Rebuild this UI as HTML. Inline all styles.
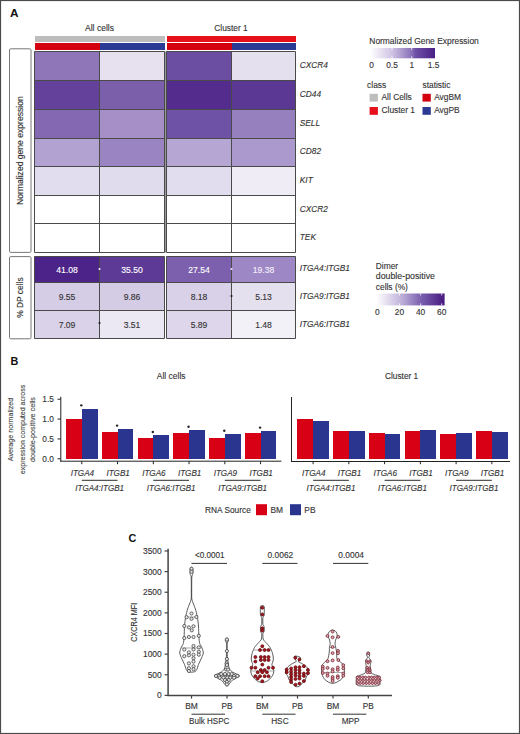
<!DOCTYPE html>
<html><head><meta charset="utf-8"><style>
html,body{margin:0;padding:0;background:#fff;}
svg{display:block;}
text{font-family:"Liberation Sans", sans-serif;}
</style></head><body>
<svg width="520" height="734" viewBox="0 0 520 734">
<rect x="0" y="0" width="520" height="734" fill="#fff"/>
<text x="10" y="17.3" font-size="11.8" fill="#111" font-weight="bold">A</text>
<text x="99.5" y="30.8" font-size="8.6" fill="#333" text-anchor="middle" textLength="29" lengthAdjust="spacingAndGlyphs" stroke="#333" stroke-width="0.12">All cells</text>
<text x="231" y="30.8" font-size="8.6" fill="#333" text-anchor="middle" textLength="33.5" lengthAdjust="spacingAndGlyphs" stroke="#333" stroke-width="0.12">Cluster 1</text>
<rect x="34.50" y="35.80" width="130.00" height="6.00" fill="#bdbdbd" shape-rendering="crispEdges"/>
<rect x="166.50" y="35.80" width="129.00" height="6.00" fill="#e5101a" shape-rendering="crispEdges"/>
<rect x="34.50" y="43.20" width="65.00" height="6.50" fill="#d4000f" shape-rendering="crispEdges"/>
<rect x="99.50" y="43.20" width="65.00" height="6.50" fill="#2b3a94" shape-rendering="crispEdges"/>
<rect x="166.50" y="43.20" width="65.00" height="6.50" fill="#d4000f" shape-rendering="crispEdges"/>
<rect x="231.50" y="43.20" width="64.00" height="6.50" fill="#2b3a94" shape-rendering="crispEdges"/>
<rect x="34.50" y="51.50" width="65.00" height="29.00" fill="#8e76b9"/>
<rect x="99.50" y="51.50" width="65.00" height="29.00" fill="#e6e0ef"/>
<rect x="166.50" y="51.50" width="65.00" height="29.00" fill="#6b4ea2"/>
<rect x="231.50" y="51.50" width="64.00" height="29.00" fill="#e5e0ee"/>
<rect x="34.50" y="80.50" width="65.00" height="29.00" fill="#64419b"/>
<rect x="99.50" y="80.50" width="65.00" height="29.00" fill="#7b5faa"/>
<rect x="166.50" y="80.50" width="65.00" height="29.00" fill="#532c8d"/>
<rect x="231.50" y="80.50" width="64.00" height="29.00" fill="#5c3895"/>
<rect x="34.50" y="109.50" width="65.00" height="29.00" fill="#8468b2"/>
<rect x="99.50" y="109.50" width="65.00" height="29.00" fill="#a58fc6"/>
<rect x="166.50" y="109.50" width="65.00" height="29.00" fill="#6e52a5"/>
<rect x="231.50" y="109.50" width="64.00" height="29.00" fill="#9680bd"/>
<rect x="34.50" y="138.50" width="65.00" height="28.00" fill="#b2a2d2"/>
<rect x="99.50" y="138.50" width="65.00" height="28.00" fill="#9a85c2"/>
<rect x="166.50" y="138.50" width="65.00" height="28.00" fill="#b6a6d3"/>
<rect x="231.50" y="138.50" width="64.00" height="28.00" fill="#ab98cd"/>
<rect x="34.50" y="166.50" width="65.00" height="29.00" fill="#e2ddee"/>
<rect x="99.50" y="166.50" width="65.00" height="29.00" fill="#e0dbed"/>
<rect x="166.50" y="166.50" width="65.00" height="29.00" fill="#e2ddee"/>
<rect x="231.50" y="166.50" width="64.00" height="29.00" fill="#efecf6"/>
<rect x="34.50" y="195.50" width="65.00" height="28.00" fill="#ffffff"/>
<rect x="99.50" y="195.50" width="65.00" height="28.00" fill="#ffffff"/>
<rect x="166.50" y="195.50" width="65.00" height="28.00" fill="#ffffff"/>
<rect x="231.50" y="195.50" width="64.00" height="28.00" fill="#ffffff"/>
<rect x="34.50" y="223.50" width="65.00" height="29.00" fill="#ffffff"/>
<rect x="99.50" y="223.50" width="65.00" height="29.00" fill="#ffffff"/>
<rect x="166.50" y="223.50" width="65.00" height="29.00" fill="#ffffff"/>
<rect x="231.50" y="223.50" width="64.00" height="29.00" fill="#ffffff"/>
<rect x="34.50" y="256.50" width="65.00" height="26.00" fill="#4c2389"/>
<rect x="99.50" y="256.50" width="65.00" height="26.00" fill="#5e3a97"/>
<rect x="166.50" y="256.50" width="65.00" height="26.00" fill="#7c60ad"/>
<rect x="231.50" y="256.50" width="64.00" height="26.00" fill="#9d87c4"/>
<rect x="34.50" y="282.50" width="65.00" height="28.00" fill="#d5cce5"/>
<rect x="99.50" y="282.50" width="65.00" height="28.00" fill="#d4cbe4"/>
<rect x="166.50" y="282.50" width="65.00" height="28.00" fill="#d9d1e8"/>
<rect x="231.50" y="282.50" width="64.00" height="28.00" fill="#e5e0ee"/>
<rect x="34.50" y="310.50" width="65.00" height="28.00" fill="#d9d2e8"/>
<rect x="99.50" y="310.50" width="65.00" height="28.00" fill="#ebe7f3"/>
<rect x="166.50" y="310.50" width="65.00" height="28.00" fill="#ded7eb"/>
<rect x="231.50" y="310.50" width="64.00" height="28.00" fill="#f3f1f8"/>
<line x1="34.5" y1="51.5" x2="164.5" y2="51.5" stroke="#4a4a4a" stroke-width="1"/>
<line x1="34.5" y1="80.5" x2="164.5" y2="80.5" stroke="#4a4a4a" stroke-width="1"/>
<line x1="34.5" y1="109.5" x2="164.5" y2="109.5" stroke="#4a4a4a" stroke-width="1"/>
<line x1="34.5" y1="138.5" x2="164.5" y2="138.5" stroke="#4a4a4a" stroke-width="1"/>
<line x1="34.5" y1="166.5" x2="164.5" y2="166.5" stroke="#4a4a4a" stroke-width="1"/>
<line x1="34.5" y1="195.5" x2="164.5" y2="195.5" stroke="#4a4a4a" stroke-width="1"/>
<line x1="34.5" y1="223.5" x2="164.5" y2="223.5" stroke="#4a4a4a" stroke-width="1"/>
<line x1="34.5" y1="252.5" x2="164.5" y2="252.5" stroke="#4a4a4a" stroke-width="1"/>
<line x1="34.5" y1="51.5" x2="34.5" y2="252.5" stroke="#4a4a4a" stroke-width="1"/>
<line x1="99.5" y1="51.5" x2="99.5" y2="252.5" stroke="#4a4a4a" stroke-width="1"/>
<line x1="164.5" y1="51.5" x2="164.5" y2="252.5" stroke="#4a4a4a" stroke-width="1"/>
<line x1="34.5" y1="256.5" x2="164.5" y2="256.5" stroke="#4a4a4a" stroke-width="1"/>
<line x1="34.5" y1="282.5" x2="164.5" y2="282.5" stroke="#4a4a4a" stroke-width="1"/>
<line x1="34.5" y1="310.5" x2="164.5" y2="310.5" stroke="#4a4a4a" stroke-width="1"/>
<line x1="34.5" y1="338.5" x2="164.5" y2="338.5" stroke="#4a4a4a" stroke-width="1"/>
<line x1="34.5" y1="256.5" x2="34.5" y2="338.5" stroke="#4a4a4a" stroke-width="1"/>
<line x1="99.5" y1="256.5" x2="99.5" y2="338.5" stroke="#4a4a4a" stroke-width="1"/>
<line x1="164.5" y1="256.5" x2="164.5" y2="338.5" stroke="#4a4a4a" stroke-width="1"/>
<line x1="166.5" y1="51.5" x2="295.5" y2="51.5" stroke="#4a4a4a" stroke-width="1"/>
<line x1="166.5" y1="80.5" x2="295.5" y2="80.5" stroke="#4a4a4a" stroke-width="1"/>
<line x1="166.5" y1="109.5" x2="295.5" y2="109.5" stroke="#4a4a4a" stroke-width="1"/>
<line x1="166.5" y1="138.5" x2="295.5" y2="138.5" stroke="#4a4a4a" stroke-width="1"/>
<line x1="166.5" y1="166.5" x2="295.5" y2="166.5" stroke="#4a4a4a" stroke-width="1"/>
<line x1="166.5" y1="195.5" x2="295.5" y2="195.5" stroke="#4a4a4a" stroke-width="1"/>
<line x1="166.5" y1="223.5" x2="295.5" y2="223.5" stroke="#4a4a4a" stroke-width="1"/>
<line x1="166.5" y1="252.5" x2="295.5" y2="252.5" stroke="#4a4a4a" stroke-width="1"/>
<line x1="166.5" y1="51.5" x2="166.5" y2="252.5" stroke="#4a4a4a" stroke-width="1"/>
<line x1="231.5" y1="51.5" x2="231.5" y2="252.5" stroke="#4a4a4a" stroke-width="1"/>
<line x1="295.5" y1="51.5" x2="295.5" y2="252.5" stroke="#4a4a4a" stroke-width="1"/>
<line x1="166.5" y1="256.5" x2="295.5" y2="256.5" stroke="#4a4a4a" stroke-width="1"/>
<line x1="166.5" y1="282.5" x2="295.5" y2="282.5" stroke="#4a4a4a" stroke-width="1"/>
<line x1="166.5" y1="310.5" x2="295.5" y2="310.5" stroke="#4a4a4a" stroke-width="1"/>
<line x1="166.5" y1="338.5" x2="295.5" y2="338.5" stroke="#4a4a4a" stroke-width="1"/>
<line x1="166.5" y1="256.5" x2="166.5" y2="338.5" stroke="#4a4a4a" stroke-width="1"/>
<line x1="231.5" y1="256.5" x2="231.5" y2="338.5" stroke="#4a4a4a" stroke-width="1"/>
<line x1="295.5" y1="256.5" x2="295.5" y2="338.5" stroke="#4a4a4a" stroke-width="1"/>
<rect x="165.00" y="51.50" width="1.00" height="201.00" fill="#9a9a9a"/>
<text x="67.0" y="272.5" font-size="8.6" fill="#ffffff" text-anchor="middle" stroke="#ffffff" stroke-width="0.12">41.08</text>
<text x="132.0" y="272.5" font-size="8.6" fill="#ffffff" text-anchor="middle" stroke="#ffffff" stroke-width="0.12">35.50</text>
<text x="199.0" y="272.5" font-size="8.6" fill="#ffffff" text-anchor="middle" stroke="#ffffff" stroke-width="0.12">27.54</text>
<text x="263.5" y="272.5" font-size="8.6" fill="#f4f0fa" text-anchor="middle" stroke="#f4f0fa" stroke-width="0.12">19.38</text>
<text x="67.0" y="299.5" font-size="8.6" fill="#333" text-anchor="middle" stroke="#333" stroke-width="0.12">9.55</text>
<text x="132.0" y="299.5" font-size="8.6" fill="#333" text-anchor="middle" stroke="#333" stroke-width="0.12">9.86</text>
<text x="199.0" y="299.5" font-size="8.6" fill="#333" text-anchor="middle" stroke="#333" stroke-width="0.12">8.18</text>
<text x="263.5" y="299.5" font-size="8.6" fill="#333" text-anchor="middle" stroke="#333" stroke-width="0.12">5.13</text>
<text x="67.0" y="327.5" font-size="8.6" fill="#333" text-anchor="middle" stroke="#333" stroke-width="0.12">7.09</text>
<text x="132.0" y="327.5" font-size="8.6" fill="#333" text-anchor="middle" stroke="#333" stroke-width="0.12">3.51</text>
<text x="199.0" y="327.5" font-size="8.6" fill="#333" text-anchor="middle" stroke="#333" stroke-width="0.12">5.89</text>
<text x="263.5" y="327.5" font-size="8.6" fill="#333" text-anchor="middle" stroke="#333" stroke-width="0.12">1.48</text>
<circle cx="99.5" cy="269.0" r="1.1" fill="#f0e8ff"/>
<circle cx="231.5" cy="269.0" r="1.1" fill="#f0e8ff"/>
<circle cx="231.5" cy="296.0" r="1.1" fill="#222"/>
<circle cx="99.5" cy="323.0" r="1.1" fill="#222"/>
<rect x="9.5" y="48.8" width="21.5" height="203.6" rx="1.2" fill="none" stroke="#777" stroke-width="1"/>
<rect x="9.5" y="256.6" width="21.5" height="82.2" rx="1.2" fill="none" stroke="#777" stroke-width="1"/>
<text transform="translate(23.1,150.6) rotate(-90)" font-size="8.7" fill="#333" stroke="#333" stroke-width="0.12" text-anchor="middle" textLength="108.7" lengthAdjust="spacingAndGlyphs">Normalized gene expression</text>
<text transform="translate(23.2,297.6) rotate(-90)" font-size="8.7" fill="#333" stroke="#333" stroke-width="0.12" text-anchor="middle" textLength="40.4" lengthAdjust="spacingAndGlyphs">% DP cells</text>
<text x="299.8" y="68.2" font-size="8.3" fill="#333" font-style="italic" stroke="#333" stroke-width="0.12">CXCR4</text>
<text x="299.8" y="96.88" font-size="8.3" fill="#333" font-style="italic" stroke="#333" stroke-width="0.12">CD44</text>
<text x="299.8" y="125.56" font-size="8.3" fill="#333" font-style="italic" stroke="#333" stroke-width="0.12">SELL</text>
<text x="299.8" y="154.24" font-size="8.3" fill="#333" font-style="italic" stroke="#333" stroke-width="0.12">CD82</text>
<text x="299.8" y="182.92" font-size="8.3" fill="#333" font-style="italic" stroke="#333" stroke-width="0.12">KIT</text>
<text x="299.8" y="211.6" font-size="8.3" fill="#333" font-style="italic" stroke="#333" stroke-width="0.12">CXCR2</text>
<text x="299.8" y="240.28" font-size="8.3" fill="#333" font-style="italic" stroke="#333" stroke-width="0.12">TEK</text>
<text x="299.7" y="271.4" font-size="8.3" fill="#333" font-style="italic" textLength="50.3" lengthAdjust="spacingAndGlyphs" stroke="#333" stroke-width="0.12">ITGA4:ITGB1</text>
<text x="299.7" y="299.1" font-size="8.3" fill="#333" font-style="italic" textLength="50.3" lengthAdjust="spacingAndGlyphs" stroke="#333" stroke-width="0.12">ITGA9:ITGB1</text>
<text x="299.7" y="327.0" font-size="8.3" fill="#333" font-style="italic" textLength="50.3" lengthAdjust="spacingAndGlyphs" stroke="#333" stroke-width="0.12">ITGA6:ITGB1</text>
<text x="369.3" y="44.3" font-size="8.4" fill="#333" textLength="109.5" lengthAdjust="spacingAndGlyphs" stroke="#333" stroke-width="0.12">Normalized Gene Expression</text>
<defs><linearGradient id="g1" x1="0" x2="1" y1="0" y2="0"><stop offset="0" stop-color="#ffffff"/><stop offset="0.34" stop-color="#cfc4e3"/><stop offset="0.64" stop-color="#8a70b8"/><stop offset="0.7" stop-color="#6e50a6"/><stop offset="1" stop-color="#4a1f86"/></linearGradient><linearGradient id="g2" x1="0" x2="1" y1="0" y2="0"><stop offset="0" stop-color="#ffffff"/><stop offset="0.33" stop-color="#c7bbdf"/><stop offset="0.66" stop-color="#7a5fae"/><stop offset="1" stop-color="#46197f"/></linearGradient></defs>
<rect x="370.00" y="48.00" width="65.00" height="10.30" fill="url(#g1)"/>
<line x1="392" y1="48.0" x2="392" y2="50.0" stroke="#fff" stroke-width="0.8"/>
<line x1="392" y1="56.3" x2="392" y2="58.3" stroke="#fff" stroke-width="0.8"/>
<line x1="411.75" y1="48.0" x2="411.75" y2="50.0" stroke="#fff" stroke-width="0.8"/>
<line x1="411.75" y1="56.3" x2="411.75" y2="58.3" stroke="#fff" stroke-width="0.8"/>
<text x="371.5" y="68.0" font-size="8.4" fill="#333" text-anchor="middle" stroke="#333" stroke-width="0.12">0</text>
<text x="392" y="68.0" font-size="8.4" fill="#333" text-anchor="middle" stroke="#333" stroke-width="0.12">0.5</text>
<text x="411.75" y="68.0" font-size="8.4" fill="#333" text-anchor="middle" stroke="#333" stroke-width="0.12">1</text>
<text x="433.5" y="68.0" font-size="8.4" fill="#333" text-anchor="middle" stroke="#333" stroke-width="0.12">1.5</text>
<text x="367.1" y="87.7" font-size="8.4" fill="#333" stroke="#333" stroke-width="0.12">class</text>
<text x="422.5" y="87.7" font-size="8.4" fill="#333" stroke="#333" stroke-width="0.12">statistic</text>
<rect x="369.60" y="93.80" width="8.30" height="7.80" fill="#bdbdbd"/>
<text x="381.5" y="100.2" font-size="8.4" fill="#333" stroke="#333" stroke-width="0.12">All Cells</text>
<rect x="369.60" y="107.00" width="8.30" height="7.80" fill="#e5101a"/>
<text x="381.5" y="113.2" font-size="8.4" fill="#333" stroke="#333" stroke-width="0.12">Cluster 1</text>
<rect x="422.50" y="93.80" width="8.30" height="7.80" fill="#d4000f"/>
<text x="434.2" y="100.2" font-size="8.4" fill="#333" stroke="#333" stroke-width="0.12">AvgBM</text>
<rect x="422.50" y="107.00" width="8.30" height="7.80" fill="#2b3a94"/>
<text x="434.2" y="113.2" font-size="8.4" fill="#333" stroke="#333" stroke-width="0.12">AvgPB</text>
<text x="375.8" y="268.8" font-size="8.4" fill="#333" stroke="#333" stroke-width="0.12">Dimer</text>
<text x="375.8" y="279.2" font-size="8.4" fill="#333" textLength="59.2" lengthAdjust="spacingAndGlyphs" stroke="#333" stroke-width="0.12">double-positive</text>
<text x="375.8" y="289.6" font-size="8.4" fill="#333" stroke="#333" stroke-width="0.12">cells (%)</text>
<rect x="376.30" y="293.50" width="68.30" height="11.90" fill="url(#g2)"/>
<line x1="399.4" y1="293.5" x2="399.4" y2="295.5" stroke="#fff" stroke-width="0.8"/>
<line x1="399.4" y1="303.4" x2="399.4" y2="305.4" stroke="#fff" stroke-width="0.8"/>
<line x1="420.6" y1="293.5" x2="420.6" y2="295.5" stroke="#fff" stroke-width="0.8"/>
<line x1="420.6" y1="303.4" x2="420.6" y2="305.4" stroke="#fff" stroke-width="0.8"/>
<line x1="441.7" y1="293.5" x2="441.7" y2="295.5" stroke="#fff" stroke-width="0.8"/>
<line x1="441.7" y1="303.4" x2="441.7" y2="305.4" stroke="#fff" stroke-width="0.8"/>
<text x="377.3" y="314.6" font-size="8.4" fill="#333" text-anchor="middle" stroke="#333" stroke-width="0.12">0</text>
<text x="399.4" y="314.6" font-size="8.4" fill="#333" text-anchor="middle" stroke="#333" stroke-width="0.12">20</text>
<text x="420.6" y="314.6" font-size="8.4" fill="#333" text-anchor="middle" stroke="#333" stroke-width="0.12">40</text>
<text x="441.7" y="314.6" font-size="8.4" fill="#333" text-anchor="middle" stroke="#333" stroke-width="0.12">60</text>
<text x="10.5" y="365.4" font-size="10.8" fill="#111" font-weight="bold">B</text>
<text x="171.2" y="379.2" font-size="8.4" fill="#333" text-anchor="middle" textLength="28.7" lengthAdjust="spacingAndGlyphs" stroke="#333" stroke-width="0.12">All cells</text>
<text x="401.6" y="379.3" font-size="8.4" fill="#333" text-anchor="middle" textLength="33.2" lengthAdjust="spacingAndGlyphs" stroke="#333" stroke-width="0.12">Cluster 1</text>
<line x1="60.8" y1="396.8" x2="60.8" y2="461.7" stroke="#222" stroke-width="1.0"/>
<line x1="60.3" y1="461.2" x2="281.4" y2="461.2" stroke="#222" stroke-width="1.0"/>
<line x1="57.5" y1="458.8" x2="60.8" y2="458.8" stroke="#222" stroke-width="1.0"/>
<text x="53.9" y="461.7" font-size="8.2" fill="#333" text-anchor="end" textLength="11.6" lengthAdjust="spacingAndGlyphs" stroke="#333" stroke-width="0.12">0.0</text>
<line x1="57.5" y1="438.94" x2="60.8" y2="438.94" stroke="#222" stroke-width="1.0"/>
<text x="53.9" y="441.83" font-size="8.2" fill="#333" text-anchor="end" textLength="11.6" lengthAdjust="spacingAndGlyphs" stroke="#333" stroke-width="0.12">0.5</text>
<line x1="57.5" y1="419.07" x2="60.8" y2="419.07" stroke="#222" stroke-width="1.0"/>
<text x="53.9" y="421.97" font-size="8.2" fill="#333" text-anchor="end" textLength="11.6" lengthAdjust="spacingAndGlyphs" stroke="#333" stroke-width="0.12">1.0</text>
<line x1="57.5" y1="399.21" x2="60.8" y2="399.21" stroke="#222" stroke-width="1.0"/>
<text x="53.9" y="402.11" font-size="8.2" fill="#333" text-anchor="end" textLength="11.6" lengthAdjust="spacingAndGlyphs" stroke="#333" stroke-width="0.12">1.5</text>
<text transform="translate(13.4,429.5) rotate(-90)" font-size="7.7" fill="#444" stroke="#444" stroke-width="0.12" text-anchor="middle" textLength="63.5" lengthAdjust="spacingAndGlyphs">Average normalized</text>
<text transform="translate(25.0,429.5) rotate(-90)" font-size="7.7" fill="#444" stroke="#444" stroke-width="0.12" text-anchor="middle" textLength="89.3" lengthAdjust="spacingAndGlyphs">expression computed across</text>
<text transform="translate(35.2,429.5) rotate(-90)" font-size="7.7" fill="#444" stroke="#444" stroke-width="0.12" text-anchor="middle" textLength="64.9" lengthAdjust="spacingAndGlyphs">double-positive cells</text>
<rect x="66.00" y="419.07" width="15.80" height="39.73" fill="#d70014" shape-rendering="crispEdges"/>
<rect x="81.80" y="408.74" width="15.80" height="50.06" fill="#2a3590" shape-rendering="crispEdges"/>
<line x1="81.8" y1="461.2" x2="81.8" y2="464.2" stroke="#222" stroke-width="1.0"/>
<circle cx="81.3" cy="405.34" r="1.2" fill="#222"/>
<rect x="101.75" y="431.78" width="15.80" height="27.02" fill="#d70014" shape-rendering="crispEdges"/>
<rect x="117.55" y="429.00" width="15.80" height="29.80" fill="#2a3590" shape-rendering="crispEdges"/>
<line x1="117.55" y1="461.2" x2="117.55" y2="464.2" stroke="#222" stroke-width="1.0"/>
<circle cx="117.05" cy="425.6" r="1.2" fill="#222"/>
<rect x="137.50" y="438.14" width="15.80" height="20.66" fill="#d70014" shape-rendering="crispEdges"/>
<rect x="153.30" y="435.36" width="15.80" height="23.44" fill="#2a3590" shape-rendering="crispEdges"/>
<line x1="153.3" y1="461.2" x2="153.3" y2="464.2" stroke="#222" stroke-width="1.0"/>
<circle cx="152.8" cy="431.96" r="1.2" fill="#222"/>
<rect x="173.25" y="433.37" width="15.80" height="25.43" fill="#d70014" shape-rendering="crispEdges"/>
<rect x="189.05" y="430.19" width="15.80" height="28.61" fill="#2a3590" shape-rendering="crispEdges"/>
<line x1="189.05" y1="461.2" x2="189.05" y2="464.2" stroke="#222" stroke-width="1.0"/>
<circle cx="188.55" cy="426.79" r="1.2" fill="#222"/>
<rect x="209.00" y="438.14" width="15.80" height="20.66" fill="#d70014" shape-rendering="crispEdges"/>
<rect x="224.80" y="434.17" width="15.80" height="24.63" fill="#2a3590" shape-rendering="crispEdges"/>
<line x1="224.8" y1="461.2" x2="224.8" y2="464.2" stroke="#222" stroke-width="1.0"/>
<circle cx="224.3" cy="430.77" r="1.2" fill="#222"/>
<rect x="244.75" y="433.37" width="15.80" height="25.43" fill="#d70014" shape-rendering="crispEdges"/>
<rect x="260.55" y="430.99" width="15.80" height="27.81" fill="#2a3590" shape-rendering="crispEdges"/>
<line x1="260.55" y1="461.2" x2="260.55" y2="464.2" stroke="#222" stroke-width="1.0"/>
<circle cx="260.05" cy="427.59" r="1.2" fill="#222"/>
<rect x="297.30" y="419.47" width="15.80" height="39.33" fill="#d70014" shape-rendering="crispEdges"/>
<rect x="313.10" y="421.06" width="15.80" height="37.74" fill="#2a3590" shape-rendering="crispEdges"/>
<line x1="313.1" y1="461.2" x2="313.1" y2="464.2" stroke="#222" stroke-width="1.0"/>
<rect x="333.05" y="430.59" width="15.80" height="28.21" fill="#d70014" shape-rendering="crispEdges"/>
<rect x="348.85" y="431.39" width="15.80" height="27.41" fill="#2a3590" shape-rendering="crispEdges"/>
<line x1="348.85" y1="461.2" x2="348.85" y2="464.2" stroke="#222" stroke-width="1.0"/>
<rect x="368.80" y="432.98" width="15.80" height="25.82" fill="#d70014" shape-rendering="crispEdges"/>
<rect x="384.60" y="433.57" width="15.80" height="25.23" fill="#2a3590" shape-rendering="crispEdges"/>
<line x1="384.6" y1="461.2" x2="384.6" y2="464.2" stroke="#222" stroke-width="1.0"/>
<rect x="404.55" y="430.99" width="15.80" height="27.81" fill="#d70014" shape-rendering="crispEdges"/>
<rect x="420.35" y="430.00" width="15.80" height="28.80" fill="#2a3590" shape-rendering="crispEdges"/>
<line x1="420.35" y1="461.2" x2="420.35" y2="464.2" stroke="#222" stroke-width="1.0"/>
<rect x="440.30" y="433.57" width="15.80" height="25.23" fill="#d70014" shape-rendering="crispEdges"/>
<rect x="456.10" y="433.17" width="15.80" height="25.63" fill="#2a3590" shape-rendering="crispEdges"/>
<line x1="456.1" y1="461.2" x2="456.1" y2="464.2" stroke="#222" stroke-width="1.0"/>
<rect x="476.05" y="431.39" width="15.80" height="27.41" fill="#d70014" shape-rendering="crispEdges"/>
<rect x="491.85" y="431.58" width="15.80" height="27.22" fill="#2a3590" shape-rendering="crispEdges"/>
<line x1="491.85" y1="461.2" x2="491.85" y2="464.2" stroke="#222" stroke-width="1.0"/>
<line x1="291.5" y1="397.0" x2="291.5" y2="461.7" stroke="#222" stroke-width="1.0"/>
<line x1="291.0" y1="461.5" x2="510.0" y2="461.5" stroke="#222" stroke-width="1.0"/>
<text x="82.4" y="475.8" font-size="8.3" fill="#333" text-anchor="middle" font-style="italic" textLength="23.5" lengthAdjust="spacingAndGlyphs" stroke="#333" stroke-width="0.12">ITGA4</text>
<text x="118.15" y="475.8" font-size="8.3" fill="#333" text-anchor="middle" font-style="italic" textLength="23.5" lengthAdjust="spacingAndGlyphs" stroke="#333" stroke-width="0.12">ITGB1</text>
<text x="153.9" y="475.8" font-size="8.3" fill="#333" text-anchor="middle" font-style="italic" textLength="23.5" lengthAdjust="spacingAndGlyphs" stroke="#333" stroke-width="0.12">ITGA6</text>
<text x="189.65" y="475.8" font-size="8.3" fill="#333" text-anchor="middle" font-style="italic" textLength="23.5" lengthAdjust="spacingAndGlyphs" stroke="#333" stroke-width="0.12">ITGB1</text>
<text x="225.4" y="475.8" font-size="8.3" fill="#333" text-anchor="middle" font-style="italic" textLength="23.5" lengthAdjust="spacingAndGlyphs" stroke="#333" stroke-width="0.12">ITGA9</text>
<text x="261.15" y="475.8" font-size="8.3" fill="#333" text-anchor="middle" font-style="italic" textLength="23.5" lengthAdjust="spacingAndGlyphs" stroke="#333" stroke-width="0.12">ITGB1</text>
<line x1="81.8" y1="480.4" x2="117.55" y2="480.4" stroke="#555" stroke-width="1.2"/>
<text x="99.67" y="490.8" font-size="8.3" fill="#333" text-anchor="middle" font-style="italic" textLength="48.9" lengthAdjust="spacingAndGlyphs" stroke="#333" stroke-width="0.12">ITGA4:ITGB1</text>
<line x1="153.3" y1="480.4" x2="189.05" y2="480.4" stroke="#555" stroke-width="1.2"/>
<text x="171.18" y="490.8" font-size="8.3" fill="#333" text-anchor="middle" font-style="italic" textLength="48.9" lengthAdjust="spacingAndGlyphs" stroke="#333" stroke-width="0.12">ITGA6:ITGB1</text>
<line x1="224.8" y1="480.4" x2="260.55" y2="480.4" stroke="#555" stroke-width="1.2"/>
<text x="242.68" y="490.8" font-size="8.3" fill="#333" text-anchor="middle" font-style="italic" textLength="48.9" lengthAdjust="spacingAndGlyphs" stroke="#333" stroke-width="0.12">ITGA9:ITGB1</text>
<text x="313.7" y="475.8" font-size="8.3" fill="#333" text-anchor="middle" font-style="italic" textLength="23.5" lengthAdjust="spacingAndGlyphs" stroke="#333" stroke-width="0.12">ITGA4</text>
<text x="349.45" y="475.8" font-size="8.3" fill="#333" text-anchor="middle" font-style="italic" textLength="23.5" lengthAdjust="spacingAndGlyphs" stroke="#333" stroke-width="0.12">ITGB1</text>
<text x="385.2" y="475.8" font-size="8.3" fill="#333" text-anchor="middle" font-style="italic" textLength="23.5" lengthAdjust="spacingAndGlyphs" stroke="#333" stroke-width="0.12">ITGA6</text>
<text x="420.95" y="475.8" font-size="8.3" fill="#333" text-anchor="middle" font-style="italic" textLength="23.5" lengthAdjust="spacingAndGlyphs" stroke="#333" stroke-width="0.12">ITGB1</text>
<text x="456.7" y="475.8" font-size="8.3" fill="#333" text-anchor="middle" font-style="italic" textLength="23.5" lengthAdjust="spacingAndGlyphs" stroke="#333" stroke-width="0.12">ITGA9</text>
<text x="492.45" y="475.8" font-size="8.3" fill="#333" text-anchor="middle" font-style="italic" textLength="23.5" lengthAdjust="spacingAndGlyphs" stroke="#333" stroke-width="0.12">ITGB1</text>
<line x1="313.1" y1="480.4" x2="348.85" y2="480.4" stroke="#555" stroke-width="1.2"/>
<text x="330.98" y="490.8" font-size="8.3" fill="#333" text-anchor="middle" font-style="italic" textLength="48.9" lengthAdjust="spacingAndGlyphs" stroke="#333" stroke-width="0.12">ITGA4:ITGB1</text>
<line x1="384.6" y1="480.4" x2="420.35" y2="480.4" stroke="#555" stroke-width="1.2"/>
<text x="402.48" y="490.8" font-size="8.3" fill="#333" text-anchor="middle" font-style="italic" textLength="48.9" lengthAdjust="spacingAndGlyphs" stroke="#333" stroke-width="0.12">ITGA6:ITGB1</text>
<line x1="456.1" y1="480.4" x2="491.85" y2="480.4" stroke="#555" stroke-width="1.2"/>
<text x="473.98" y="490.8" font-size="8.3" fill="#333" text-anchor="middle" font-style="italic" textLength="48.9" lengthAdjust="spacingAndGlyphs" stroke="#333" stroke-width="0.12">ITGA9:ITGB1</text>
<text x="205" y="513.0" font-size="8.4" fill="#333" textLength="45.8" lengthAdjust="spacingAndGlyphs" stroke="#333" stroke-width="0.12">RNA Source</text>
<rect x="256.00" y="504.20" width="11.00" height="11.00" fill="#d70014"/>
<text x="270.4" y="513.0" font-size="8.4" fill="#333" stroke="#333" stroke-width="0.12">BM</text>
<rect x="290.00" y="504.20" width="11.00" height="11.00" fill="#2a3590"/>
<text x="304.3" y="513.0" font-size="8.4" fill="#333" stroke="#333" stroke-width="0.12">PB</text>
<text x="128.5" y="541.9" font-size="10.8" fill="#111" font-weight="bold">C</text>
<line x1="168.1" y1="548.8" x2="168.1" y2="696.1" stroke="#444" stroke-width="1.5"/>
<line x1="167.4" y1="695.4" x2="392" y2="695.4" stroke="#444" stroke-width="1.5"/>
<line x1="164.6" y1="695.4" x2="168.1" y2="695.4" stroke="#444" stroke-width="1.2"/>
<text x="161.7" y="698.3" font-size="8.4" fill="#333" text-anchor="end" textLength="4.68" lengthAdjust="spacingAndGlyphs" stroke="#333" stroke-width="0.12">0</text>
<line x1="164.6" y1="674.77" x2="168.1" y2="674.77" stroke="#444" stroke-width="1.2"/>
<text x="161.7" y="677.67" font-size="8.4" fill="#333" text-anchor="end" textLength="14.04" lengthAdjust="spacingAndGlyphs" stroke="#333" stroke-width="0.12">500</text>
<line x1="164.6" y1="654.14" x2="168.1" y2="654.14" stroke="#444" stroke-width="1.2"/>
<text x="161.7" y="657.04" font-size="8.4" fill="#333" text-anchor="end" textLength="18.72" lengthAdjust="spacingAndGlyphs" stroke="#333" stroke-width="0.12">1000</text>
<line x1="164.6" y1="633.51" x2="168.1" y2="633.51" stroke="#444" stroke-width="1.2"/>
<text x="161.7" y="636.41" font-size="8.4" fill="#333" text-anchor="end" textLength="18.72" lengthAdjust="spacingAndGlyphs" stroke="#333" stroke-width="0.12">1500</text>
<line x1="164.6" y1="612.88" x2="168.1" y2="612.88" stroke="#444" stroke-width="1.2"/>
<text x="161.7" y="615.78" font-size="8.4" fill="#333" text-anchor="end" textLength="18.72" lengthAdjust="spacingAndGlyphs" stroke="#333" stroke-width="0.12">2000</text>
<line x1="164.6" y1="592.25" x2="168.1" y2="592.25" stroke="#444" stroke-width="1.2"/>
<text x="161.7" y="595.15" font-size="8.4" fill="#333" text-anchor="end" textLength="18.72" lengthAdjust="spacingAndGlyphs" stroke="#333" stroke-width="0.12">2500</text>
<line x1="164.6" y1="571.62" x2="168.1" y2="571.62" stroke="#444" stroke-width="1.2"/>
<text x="161.7" y="574.52" font-size="8.4" fill="#333" text-anchor="end" textLength="18.72" lengthAdjust="spacingAndGlyphs" stroke="#333" stroke-width="0.12">3000</text>
<line x1="164.6" y1="550.99" x2="168.1" y2="550.99" stroke="#444" stroke-width="1.2"/>
<text x="161.7" y="553.89" font-size="8.4" fill="#333" text-anchor="end" textLength="18.72" lengthAdjust="spacingAndGlyphs" stroke="#333" stroke-width="0.12">3500</text>
<text transform="translate(137.2,622.2) rotate(-90)" font-size="8.4" fill="#333" stroke="#333" stroke-width="0.12" text-anchor="middle" textLength="39" lengthAdjust="spacingAndGlyphs">CXCR4 MFI</text>
<line x1="191.5" y1="695.4" x2="191.5" y2="698.6" stroke="#444" stroke-width="1.2"/>
<line x1="227.0" y1="695.4" x2="227.0" y2="698.6" stroke="#444" stroke-width="1.2"/>
<line x1="262.3" y1="695.4" x2="262.3" y2="698.6" stroke="#444" stroke-width="1.2"/>
<line x1="297.5" y1="695.4" x2="297.5" y2="698.6" stroke="#444" stroke-width="1.2"/>
<line x1="333.0" y1="695.4" x2="333.0" y2="698.6" stroke="#444" stroke-width="1.2"/>
<line x1="368.3" y1="695.4" x2="368.3" y2="698.6" stroke="#444" stroke-width="1.2"/>
<text x="191.5" y="709.0" font-size="8.2" fill="#333" text-anchor="middle" textLength="12.7" lengthAdjust="spacingAndGlyphs" stroke="#333" stroke-width="0.12">BM</text>
<text x="227.0" y="709.0" font-size="8.2" fill="#333" text-anchor="middle" textLength="11.0" lengthAdjust="spacingAndGlyphs" stroke="#333" stroke-width="0.12">PB</text>
<text x="262.3" y="709.0" font-size="8.2" fill="#333" text-anchor="middle" textLength="12.7" lengthAdjust="spacingAndGlyphs" stroke="#333" stroke-width="0.12">BM</text>
<text x="297.5" y="709.0" font-size="8.2" fill="#333" text-anchor="middle" textLength="11.0" lengthAdjust="spacingAndGlyphs" stroke="#333" stroke-width="0.12">PB</text>
<text x="333.0" y="709.0" font-size="8.2" fill="#333" text-anchor="middle" textLength="12.7" lengthAdjust="spacingAndGlyphs" stroke="#333" stroke-width="0.12">BM</text>
<text x="368.3" y="709.0" font-size="8.2" fill="#333" text-anchor="middle" textLength="11.0" lengthAdjust="spacingAndGlyphs" stroke="#333" stroke-width="0.12">PB</text>
<line x1="191.5" y1="714.2" x2="225.0" y2="714.2" stroke="#333" stroke-width="1.0"/>
<text x="209.25" y="724.2" font-size="8.2" fill="#333" text-anchor="middle" textLength="40.4" lengthAdjust="spacingAndGlyphs" stroke="#333" stroke-width="0.12">Bulk HSPC</text>
<line x1="262.3" y1="714.2" x2="295.5" y2="714.2" stroke="#333" stroke-width="1.0"/>
<text x="279.9" y="724.2" font-size="8.2" fill="#333" text-anchor="middle" textLength="17.5" lengthAdjust="spacingAndGlyphs" stroke="#333" stroke-width="0.12">HSC</text>
<line x1="333.0" y1="714.2" x2="366.3" y2="714.2" stroke="#333" stroke-width="1.0"/>
<text x="350.65" y="724.2" font-size="8.2" fill="#333" text-anchor="middle" textLength="17.9" lengthAdjust="spacingAndGlyphs" stroke="#333" stroke-width="0.12">MPP</text>
<line x1="191.5" y1="563.4" x2="227.0" y2="563.4" stroke="#333" stroke-width="1.0"/>
<text x="209.75" y="558.1" font-size="8.2" fill="#333" text-anchor="middle" textLength="29.6" lengthAdjust="spacingAndGlyphs" stroke="#333" stroke-width="0.12">&lt;0.0001</text>
<line x1="262.3" y1="563.4" x2="297.5" y2="563.4" stroke="#333" stroke-width="1.0"/>
<text x="280.4" y="558.1" font-size="8.2" fill="#333" text-anchor="middle" textLength="25.6" lengthAdjust="spacingAndGlyphs" stroke="#333" stroke-width="0.12">0.0062</text>
<line x1="333.0" y1="563.4" x2="368.3" y2="563.4" stroke="#333" stroke-width="1.0"/>
<text x="351.15" y="558.1" font-size="8.2" fill="#333" text-anchor="middle" textLength="25.6" lengthAdjust="spacingAndGlyphs" stroke="#333" stroke-width="0.12">0.0004</text>
<rect x="0.5" y="0.5" width="519" height="733" fill="none" stroke="#4a4a4a" stroke-width="1.2"/>
<path d="M191.50,567.20 C191.74,567.20 192.55,567.82 192.70,568.20 C192.85,568.58 193.00,570.37 193.00,571.00 C193.00,571.63 192.82,573.90 192.70,574.50 C192.58,575.10 191.90,575.45 191.80,577.00 C191.70,578.55 191.70,587.80 191.70,590.00 C191.70,592.20 191.62,597.60 191.80,599.00 C191.98,600.40 193.14,603.00 193.50,604.00 C193.86,605.00 195.02,607.75 195.40,609.00 C195.78,610.25 196.99,614.80 197.30,616.50 C197.61,618.20 198.34,623.95 198.50,626.00 C198.66,628.05 198.78,635.25 198.90,637.00 C199.02,638.75 199.37,642.37 199.70,643.50 C200.03,644.63 201.84,647.35 202.20,648.30 C202.56,649.25 203.35,652.07 203.30,653.00 C203.25,653.93 202.18,656.45 201.70,657.60 C201.22,658.75 198.99,663.31 198.50,664.50 C198.01,665.69 197.14,668.79 196.80,669.50 C196.46,670.21 195.63,671.33 195.10,671.60 C194.57,671.87 192.22,672.20 191.50,672.20 C190.78,672.20 188.43,671.87 187.90,671.60 C187.37,671.33 186.54,670.21 186.20,669.50 C185.86,668.79 184.99,665.69 184.50,664.50 C184.01,663.31 181.78,658.75 181.30,657.60 C180.82,656.45 179.75,653.93 179.70,653.00 C179.65,652.07 180.44,649.25 180.80,648.30 C181.16,647.35 182.97,644.63 183.30,643.50 C183.63,642.37 183.98,638.75 184.10,637.00 C184.22,635.25 184.34,628.05 184.50,626.00 C184.66,623.95 185.39,618.20 185.70,616.50 C186.01,614.80 187.22,610.25 187.60,609.00 C187.98,607.75 189.14,605.00 189.50,604.00 C189.86,603.00 191.02,600.40 191.20,599.00 C191.38,597.60 191.30,592.20 191.30,590.00 C191.30,587.80 191.30,578.55 191.20,577.00 C191.10,575.45 190.42,575.10 190.30,574.50 C190.18,573.90 190.00,571.63 190.00,571.00 C190.00,570.37 190.15,568.58 190.30,568.20 C190.45,567.82 191.26,567.20 191.50,567.20Z" fill="none" stroke="#333" stroke-width="0.8"/>
<line x1="185.94" y1="617.0" x2="197.06" y2="617.0" stroke="#555" stroke-width="0.5"/>
<line x1="181.26" y1="648.0" x2="201.74" y2="648.0" stroke="#555" stroke-width="0.5"/>
<circle cx="191.5" cy="568.8" r="1.6" fill="#e6e6e6" stroke="#3d3d3d" stroke-width="0.75"/>
<circle cx="191.5" cy="571.8" r="1.6" fill="#e6e6e6" stroke="#3d3d3d" stroke-width="0.75"/>
<circle cx="191.5" cy="613.5" r="1.6" fill="#e6e6e6" stroke="#3d3d3d" stroke-width="0.75"/>
<circle cx="186.6" cy="617.2" r="1.6" fill="#e6e6e6" stroke="#3d3d3d" stroke-width="0.75"/>
<circle cx="191.5" cy="618.8" r="1.6" fill="#e6e6e6" stroke="#3d3d3d" stroke-width="0.75"/>
<circle cx="196.4" cy="617" r="1.6" fill="#e6e6e6" stroke="#3d3d3d" stroke-width="0.75"/>
<circle cx="184.3" cy="626" r="1.6" fill="#e6e6e6" stroke="#3d3d3d" stroke-width="0.75"/>
<circle cx="188.9" cy="627.4" r="1.6" fill="#e6e6e6" stroke="#3d3d3d" stroke-width="0.75"/>
<circle cx="193.5" cy="626.3" r="1.6" fill="#e6e6e6" stroke="#3d3d3d" stroke-width="0.75"/>
<circle cx="191.8" cy="630.3" r="1.6" fill="#e6e6e6" stroke="#3d3d3d" stroke-width="0.75"/>
<circle cx="184.3" cy="638.1" r="1.6" fill="#e6e6e6" stroke="#3d3d3d" stroke-width="0.75"/>
<circle cx="188.9" cy="637" r="1.6" fill="#e6e6e6" stroke="#3d3d3d" stroke-width="0.75"/>
<circle cx="193.5" cy="637" r="1.6" fill="#e6e6e6" stroke="#3d3d3d" stroke-width="0.75"/>
<circle cx="198.8" cy="635.8" r="1.6" fill="#e6e6e6" stroke="#3d3d3d" stroke-width="0.75"/>
<circle cx="193.5" cy="646" r="1.6" fill="#e6e6e6" stroke="#3d3d3d" stroke-width="0.75"/>
<circle cx="198.8" cy="647.4" r="1.6" fill="#e6e6e6" stroke="#3d3d3d" stroke-width="0.75"/>
<circle cx="184.3" cy="649.5" r="1.6" fill="#e6e6e6" stroke="#3d3d3d" stroke-width="0.75"/>
<circle cx="193.5" cy="649.5" r="1.6" fill="#e6e6e6" stroke="#3d3d3d" stroke-width="0.75"/>
<circle cx="188.9" cy="652.4" r="1.6" fill="#e6e6e6" stroke="#3d3d3d" stroke-width="0.75"/>
<circle cx="198.8" cy="651.8" r="1.6" fill="#e6e6e6" stroke="#3d3d3d" stroke-width="0.75"/>
<circle cx="188.9" cy="655.3" r="1.6" fill="#e6e6e6" stroke="#3d3d3d" stroke-width="0.75"/>
<circle cx="193.5" cy="654.7" r="1.6" fill="#e6e6e6" stroke="#3d3d3d" stroke-width="0.75"/>
<circle cx="198.8" cy="654.7" r="1.6" fill="#e6e6e6" stroke="#3d3d3d" stroke-width="0.75"/>
<circle cx="184.3" cy="656.2" r="1.6" fill="#e6e6e6" stroke="#3d3d3d" stroke-width="0.75"/>
<circle cx="193.5" cy="658.2" r="1.6" fill="#e6e6e6" stroke="#3d3d3d" stroke-width="0.75"/>
<circle cx="193.5" cy="661.6" r="1.6" fill="#e6e6e6" stroke="#3d3d3d" stroke-width="0.75"/>
<circle cx="188.9" cy="663.4" r="1.6" fill="#e6e6e6" stroke="#3d3d3d" stroke-width="0.75"/>
<circle cx="193.5" cy="666.3" r="1.6" fill="#e6e6e6" stroke="#3d3d3d" stroke-width="0.75"/>
<circle cx="188.9" cy="668.2" r="1.6" fill="#e6e6e6" stroke="#3d3d3d" stroke-width="0.75"/>
<circle cx="193.5" cy="669.2" r="1.6" fill="#e6e6e6" stroke="#3d3d3d" stroke-width="0.75"/>
<circle cx="188.9" cy="671.0" r="1.6" fill="#e6e6e6" stroke="#3d3d3d" stroke-width="0.75"/>
<path d="M226.90,638.00 C227.16,638.00 228.05,638.50 228.20,638.80 C228.35,639.10 228.50,640.58 228.40,641.00 C228.30,641.42 227.32,642.10 227.20,643.00 C227.08,643.90 227.19,649.10 227.20,650.00 C227.21,650.90 227.28,651.20 227.30,652.00 C227.32,652.80 227.32,657.00 227.40,658.00 C227.48,659.00 227.97,661.20 228.10,662.00 C228.23,662.80 228.56,665.30 228.70,666.00 C228.84,666.70 229.13,668.40 229.50,669.00 C229.87,669.60 231.44,671.38 232.40,672.00 C233.36,672.62 238.43,674.74 239.10,675.20 C239.77,675.66 239.47,676.27 239.10,676.60 C238.73,676.93 236.17,678.06 235.40,678.50 C234.63,678.94 232.05,680.40 231.40,681.00 C230.75,681.60 229.35,684.00 228.90,684.50 C228.45,685.00 227.30,686.00 226.90,686.00 C226.50,686.00 225.35,685.00 224.90,684.50 C224.45,684.00 223.05,681.60 222.40,681.00 C221.75,680.40 219.17,678.94 218.40,678.50 C217.63,678.06 215.07,676.93 214.70,676.60 C214.33,676.27 214.03,675.66 214.70,675.20 C215.37,674.74 220.44,672.62 221.40,672.00 C222.36,671.38 223.93,669.60 224.30,669.00 C224.67,668.40 224.96,666.70 225.10,666.00 C225.24,665.30 225.57,662.80 225.70,662.00 C225.83,661.20 226.32,659.00 226.40,658.00 C226.48,657.00 226.48,652.80 226.50,652.00 C226.52,651.20 226.59,650.90 226.60,650.00 C226.61,649.10 226.72,643.90 226.60,643.00 C226.48,642.10 225.50,641.42 225.40,641.00 C225.30,640.58 225.45,639.10 225.60,638.80 C225.75,638.50 226.64,638.00 226.90,638.00Z" fill="none" stroke="#333" stroke-width="0.8"/>
<circle cx="226.9" cy="639.6" r="1.6" fill="#e6e6e6" stroke="#3d3d3d" stroke-width="0.75"/>
<circle cx="226.9" cy="651.1" r="1.6" fill="#e6e6e6" stroke="#3d3d3d" stroke-width="0.75"/>
<circle cx="226.9" cy="659" r="1.6" fill="#e6e6e6" stroke="#3d3d3d" stroke-width="0.75"/>
<circle cx="226.6" cy="663.3" r="1.6" fill="#e6e6e6" stroke="#3d3d3d" stroke-width="0.75"/>
<circle cx="226.9" cy="665" r="1.6" fill="#e6e6e6" stroke="#3d3d3d" stroke-width="0.75"/>
<circle cx="226.1" cy="669.5" r="1.6" fill="#e6e6e6" stroke="#3d3d3d" stroke-width="0.75"/>
<circle cx="228" cy="669.6" r="1.6" fill="#e6e6e6" stroke="#3d3d3d" stroke-width="0.75"/>
<circle cx="216" cy="675.9" r="1.6" fill="#e6e6e6" stroke="#3d3d3d" stroke-width="0.75"/>
<circle cx="219" cy="675.9" r="1.6" fill="#e6e6e6" stroke="#3d3d3d" stroke-width="0.75"/>
<circle cx="222" cy="675.9" r="1.6" fill="#e6e6e6" stroke="#3d3d3d" stroke-width="0.75"/>
<circle cx="225" cy="675.9" r="1.6" fill="#e6e6e6" stroke="#3d3d3d" stroke-width="0.75"/>
<circle cx="228" cy="675.9" r="1.6" fill="#e6e6e6" stroke="#3d3d3d" stroke-width="0.75"/>
<circle cx="231" cy="675.9" r="1.6" fill="#e6e6e6" stroke="#3d3d3d" stroke-width="0.75"/>
<circle cx="234" cy="675.9" r="1.6" fill="#e6e6e6" stroke="#3d3d3d" stroke-width="0.75"/>
<circle cx="237.4" cy="675.9" r="1.6" fill="#e6e6e6" stroke="#3d3d3d" stroke-width="0.75"/>
<circle cx="221.2" cy="674" r="1.6" fill="#e6e6e6" stroke="#3d3d3d" stroke-width="0.75"/>
<circle cx="225" cy="674" r="1.6" fill="#e6e6e6" stroke="#3d3d3d" stroke-width="0.75"/>
<circle cx="228.7" cy="674" r="1.6" fill="#e6e6e6" stroke="#3d3d3d" stroke-width="0.75"/>
<circle cx="231.7" cy="674" r="1.6" fill="#e6e6e6" stroke="#3d3d3d" stroke-width="0.75"/>
<circle cx="219.7" cy="677.7" r="1.6" fill="#e6e6e6" stroke="#3d3d3d" stroke-width="0.75"/>
<circle cx="223.5" cy="677.7" r="1.6" fill="#e6e6e6" stroke="#3d3d3d" stroke-width="0.75"/>
<circle cx="227.2" cy="677.7" r="1.6" fill="#e6e6e6" stroke="#3d3d3d" stroke-width="0.75"/>
<circle cx="230.2" cy="677.7" r="1.6" fill="#e6e6e6" stroke="#3d3d3d" stroke-width="0.75"/>
<circle cx="234" cy="677.7" r="1.6" fill="#e6e6e6" stroke="#3d3d3d" stroke-width="0.75"/>
<circle cx="225" cy="680" r="1.6" fill="#e6e6e6" stroke="#3d3d3d" stroke-width="0.75"/>
<circle cx="228.7" cy="680" r="1.6" fill="#e6e6e6" stroke="#3d3d3d" stroke-width="0.75"/>
<circle cx="226.9" cy="681.9" r="1.6" fill="#e6e6e6" stroke="#3d3d3d" stroke-width="0.75"/>
<circle cx="226.9" cy="684.4" r="1.6" fill="#e6e6e6" stroke="#3d3d3d" stroke-width="0.75"/>
<path d="M262.30,605.50 C262.66,605.50 263.90,605.85 264.10,606.30 C264.30,606.75 264.30,609.08 264.30,610.00 C264.30,610.92 264.24,614.75 264.10,615.50 C263.96,616.25 263.02,616.60 262.90,617.50 C262.78,618.40 262.78,623.60 262.90,624.50 C263.02,625.40 263.98,625.80 264.10,626.50 C264.22,627.20 264.22,630.80 264.10,631.50 C263.98,632.20 263.00,632.75 262.90,633.50 C262.80,634.25 262.94,638.25 263.10,639.00 C263.26,639.75 264.08,640.50 264.50,641.00 C264.92,641.50 266.74,643.35 267.30,644.00 C267.86,644.65 269.64,646.75 270.10,647.50 C270.56,648.25 271.60,650.65 271.90,651.50 C272.20,652.35 272.96,655.15 273.10,656.00 C273.24,656.85 273.42,659.15 273.30,660.00 C273.18,660.85 271.92,663.70 271.90,664.50 C271.88,665.30 272.90,667.35 273.10,668.00 C273.30,668.65 273.93,670.30 273.90,671.00 C273.87,671.70 273.21,674.20 272.80,675.00 C272.39,675.80 270.45,678.34 269.80,679.00 C269.15,679.66 267.05,681.25 266.30,681.60 C265.55,681.95 263.10,682.50 262.30,682.50 C261.50,682.50 259.05,681.95 258.30,681.60 C257.55,681.25 255.45,679.66 254.80,679.00 C254.15,678.34 252.21,675.80 251.80,675.00 C251.39,674.20 250.73,671.70 250.70,671.00 C250.67,670.30 251.30,668.65 251.50,668.00 C251.70,667.35 252.72,665.30 252.70,664.50 C252.68,663.70 251.42,660.85 251.30,660.00 C251.18,659.15 251.36,656.85 251.50,656.00 C251.64,655.15 252.40,652.35 252.70,651.50 C253.00,650.65 254.04,648.25 254.50,647.50 C254.96,646.75 256.74,644.65 257.30,644.00 C257.86,643.35 259.68,641.50 260.10,641.00 C260.52,640.50 261.34,639.75 261.50,639.00 C261.66,638.25 261.80,634.25 261.70,633.50 C261.60,632.75 260.62,632.20 260.50,631.50 C260.38,630.80 260.38,627.20 260.50,626.50 C260.62,625.80 261.58,625.40 261.70,624.50 C261.82,623.60 261.82,618.40 261.70,617.50 C261.58,616.60 260.64,616.25 260.50,615.50 C260.36,614.75 260.30,610.92 260.30,610.00 C260.30,609.08 260.30,606.75 260.50,606.30 C260.70,605.85 261.94,605.50 262.30,605.50Z" fill="none" stroke="#333" stroke-width="0.8"/>
<line x1="253.68" y1="650.0" x2="270.93" y2="650.0" stroke="#555" stroke-width="0.5"/>
<line x1="251.00" y1="671.0" x2="273.60" y2="671.0" stroke="#555" stroke-width="0.5"/>
<circle cx="262.3" cy="607.7" r="1.5" fill="#a8141c" stroke="#5e0c10" stroke-width="0.75"/>
<circle cx="262.3" cy="614.4" r="1.5" fill="#a8141c" stroke="#5e0c10" stroke-width="0.75"/>
<circle cx="262.3" cy="628.3" r="1.5" fill="#a8141c" stroke="#5e0c10" stroke-width="0.75"/>
<circle cx="262.3" cy="630.6" r="1.5" fill="#a8141c" stroke="#5e0c10" stroke-width="0.75"/>
<circle cx="262.3" cy="646.2" r="1.5" fill="#a8141c" stroke="#5e0c10" stroke-width="0.75"/>
<circle cx="260" cy="650" r="1.5" fill="#a8141c" stroke="#5e0c10" stroke-width="0.75"/>
<circle cx="264.6" cy="650" r="1.5" fill="#a8141c" stroke="#5e0c10" stroke-width="0.75"/>
<circle cx="268.5" cy="650" r="1.5" fill="#a8141c" stroke="#5e0c10" stroke-width="0.75"/>
<circle cx="255.4" cy="657" r="1.5" fill="#a8141c" stroke="#5e0c10" stroke-width="0.75"/>
<circle cx="260.8" cy="657" r="1.5" fill="#a8141c" stroke="#5e0c10" stroke-width="0.75"/>
<circle cx="264.6" cy="657" r="1.5" fill="#a8141c" stroke="#5e0c10" stroke-width="0.75"/>
<circle cx="268.5" cy="657" r="1.5" fill="#a8141c" stroke="#5e0c10" stroke-width="0.75"/>
<circle cx="260.8" cy="660" r="1.5" fill="#a8141c" stroke="#5e0c10" stroke-width="0.75"/>
<circle cx="264.6" cy="660" r="1.5" fill="#a8141c" stroke="#5e0c10" stroke-width="0.75"/>
<circle cx="268.5" cy="660" r="1.5" fill="#a8141c" stroke="#5e0c10" stroke-width="0.75"/>
<circle cx="255.4" cy="661.5" r="1.5" fill="#a8141c" stroke="#5e0c10" stroke-width="0.75"/>
<circle cx="262.3" cy="664.6" r="1.5" fill="#a8141c" stroke="#5e0c10" stroke-width="0.75"/>
<circle cx="251.5" cy="667.7" r="1.5" fill="#a8141c" stroke="#5e0c10" stroke-width="0.75"/>
<circle cx="255.4" cy="667.7" r="1.5" fill="#a8141c" stroke="#5e0c10" stroke-width="0.75"/>
<circle cx="268.5" cy="667.7" r="1.5" fill="#a8141c" stroke="#5e0c10" stroke-width="0.75"/>
<circle cx="273" cy="667.7" r="1.5" fill="#a8141c" stroke="#5e0c10" stroke-width="0.75"/>
<circle cx="260.8" cy="670" r="1.5" fill="#a8141c" stroke="#5e0c10" stroke-width="0.75"/>
<circle cx="264.6" cy="670" r="1.5" fill="#a8141c" stroke="#5e0c10" stroke-width="0.75"/>
<circle cx="257.7" cy="672.3" r="1.5" fill="#a8141c" stroke="#5e0c10" stroke-width="0.75"/>
<circle cx="262.3" cy="672.3" r="1.5" fill="#a8141c" stroke="#5e0c10" stroke-width="0.75"/>
<circle cx="266.9" cy="672.3" r="1.5" fill="#a8141c" stroke="#5e0c10" stroke-width="0.75"/>
<circle cx="255.4" cy="676.2" r="1.5" fill="#a8141c" stroke="#5e0c10" stroke-width="0.75"/>
<circle cx="260" cy="676.2" r="1.5" fill="#a8141c" stroke="#5e0c10" stroke-width="0.75"/>
<circle cx="264.6" cy="676.2" r="1.5" fill="#a8141c" stroke="#5e0c10" stroke-width="0.75"/>
<circle cx="268.5" cy="676.2" r="1.5" fill="#a8141c" stroke="#5e0c10" stroke-width="0.75"/>
<circle cx="257.7" cy="678.5" r="1.5" fill="#a8141c" stroke="#5e0c10" stroke-width="0.75"/>
<circle cx="262.3" cy="681.2" r="1.5" fill="#a8141c" stroke="#5e0c10" stroke-width="0.75"/>
<path d="M297.70,656.30 C298.28,656.42 300.21,657.13 300.40,657.50 C300.59,657.87 299.82,659.60 299.60,660.00 C299.38,660.40 297.89,661.10 298.20,661.50 C298.51,661.90 301.90,663.50 302.70,664.00 C303.50,664.50 305.61,665.95 306.20,666.50 C306.79,667.05 308.34,668.85 308.60,669.50 C308.86,670.15 308.99,672.35 308.80,673.00 C308.61,673.65 307.06,675.30 306.70,676.00 C306.34,676.70 305.65,679.25 305.20,680.00 C304.75,680.75 302.80,682.88 302.20,683.50 C301.60,684.12 299.70,685.87 299.20,686.20 C298.70,686.53 297.60,686.80 297.20,686.80 C296.80,686.80 295.70,686.53 295.20,686.20 C294.70,685.87 292.80,684.12 292.20,683.50 C291.60,682.88 289.65,680.75 289.20,680.00 C288.75,679.25 288.06,676.70 287.70,676.00 C287.34,675.30 285.79,673.65 285.60,673.00 C285.41,672.35 285.54,670.15 285.80,669.50 C286.06,668.85 287.61,667.05 288.20,666.50 C288.79,665.95 290.90,664.50 291.70,664.00 C292.50,663.50 295.81,661.90 296.20,661.50 C296.59,661.10 295.78,660.40 295.60,660.00 C295.42,659.60 294.50,657.87 294.40,657.50 C294.30,657.13 294.27,656.42 294.60,656.30 C294.93,656.18 297.12,656.18 297.70,656.30Z" fill="none" stroke="#333" stroke-width="0.8"/>
<circle cx="295.3" cy="657.7" r="1.5" fill="#a8141c" stroke="#5e0c10" stroke-width="0.75"/>
<circle cx="299.5" cy="659.4" r="1.5" fill="#a8141c" stroke="#5e0c10" stroke-width="0.75"/>
<circle cx="286.7" cy="669.5" r="1.5" fill="#a8141c" stroke="#5e0c10" stroke-width="0.75"/>
<circle cx="286.7" cy="672.2" r="1.5" fill="#a8141c" stroke="#5e0c10" stroke-width="0.75"/>
<circle cx="291.1" cy="668.5" r="1.5" fill="#a8141c" stroke="#5e0c10" stroke-width="0.75"/>
<circle cx="291.1" cy="671.5" r="1.5" fill="#a8141c" stroke="#5e0c10" stroke-width="0.75"/>
<circle cx="291.1" cy="674.2" r="1.5" fill="#a8141c" stroke="#5e0c10" stroke-width="0.75"/>
<circle cx="291.1" cy="676.9" r="1.5" fill="#a8141c" stroke="#5e0c10" stroke-width="0.75"/>
<circle cx="291.1" cy="679.6" r="1.5" fill="#a8141c" stroke="#5e0c10" stroke-width="0.75"/>
<circle cx="291.1" cy="682" r="1.5" fill="#a8141c" stroke="#5e0c10" stroke-width="0.75"/>
<circle cx="295.5" cy="667.2" r="1.5" fill="#a8141c" stroke="#5e0c10" stroke-width="0.75"/>
<circle cx="295.5" cy="669.9" r="1.5" fill="#a8141c" stroke="#5e0c10" stroke-width="0.75"/>
<circle cx="295.5" cy="672.9" r="1.5" fill="#a8141c" stroke="#5e0c10" stroke-width="0.75"/>
<circle cx="295.5" cy="675.6" r="1.5" fill="#a8141c" stroke="#5e0c10" stroke-width="0.75"/>
<circle cx="295.5" cy="678.9" r="1.5" fill="#a8141c" stroke="#5e0c10" stroke-width="0.75"/>
<circle cx="295.5" cy="684.7" r="1.5" fill="#a8141c" stroke="#5e0c10" stroke-width="0.75"/>
<circle cx="299.5" cy="667.2" r="1.5" fill="#a8141c" stroke="#5e0c10" stroke-width="0.75"/>
<circle cx="299.5" cy="670.2" r="1.5" fill="#a8141c" stroke="#5e0c10" stroke-width="0.75"/>
<circle cx="299.5" cy="672.9" r="1.5" fill="#a8141c" stroke="#5e0c10" stroke-width="0.75"/>
<circle cx="299.5" cy="675.9" r="1.5" fill="#a8141c" stroke="#5e0c10" stroke-width="0.75"/>
<circle cx="299.5" cy="678.6" r="1.5" fill="#a8141c" stroke="#5e0c10" stroke-width="0.75"/>
<circle cx="299.5" cy="683.6" r="1.5" fill="#a8141c" stroke="#5e0c10" stroke-width="0.75"/>
<circle cx="303.9" cy="666.2" r="1.5" fill="#a8141c" stroke="#5e0c10" stroke-width="0.75"/>
<circle cx="303.9" cy="673.6" r="1.5" fill="#a8141c" stroke="#5e0c10" stroke-width="0.75"/>
<circle cx="303.9" cy="675.9" r="1.5" fill="#a8141c" stroke="#5e0c10" stroke-width="0.75"/>
<circle cx="303.9" cy="681" r="1.5" fill="#a8141c" stroke="#5e0c10" stroke-width="0.75"/>
<circle cx="307.9" cy="669.9" r="1.5" fill="#a8141c" stroke="#5e0c10" stroke-width="0.75"/>
<circle cx="307.9" cy="673.2" r="1.5" fill="#a8141c" stroke="#5e0c10" stroke-width="0.75"/>
<path d="M332.60,630.00 C333.04,630.00 334.38,630.30 334.80,630.60 C335.22,630.90 336.57,632.41 336.80,633.00 C337.03,633.59 337.22,635.80 337.10,636.50 C336.98,637.20 335.81,639.27 335.60,640.00 C335.39,640.73 334.98,643.02 335.00,643.80 C335.02,644.58 335.64,646.98 335.80,647.80 C335.96,648.62 336.48,650.90 336.60,652.00 C336.72,653.10 336.62,657.80 337.00,658.80 C337.38,659.80 339.73,661.36 340.40,662.00 C341.07,662.64 343.29,664.17 343.70,665.20 C344.11,666.23 344.56,671.22 344.50,672.30 C344.44,673.38 343.42,675.29 343.10,676.00 C342.78,676.71 342.00,678.75 341.30,679.40 C340.60,680.05 336.97,682.10 336.10,682.50 C335.23,682.90 333.30,683.40 332.60,683.40 C331.90,683.40 329.89,682.90 329.10,682.50 C328.31,682.10 325.35,680.05 324.70,679.40 C324.05,678.75 322.91,676.71 322.60,676.00 C322.29,675.29 321.66,673.38 321.60,672.30 C321.54,671.22 321.65,666.23 322.00,665.20 C322.35,664.17 324.51,662.64 325.10,662.00 C325.69,661.36 327.48,659.80 327.90,658.80 C328.32,657.80 329.15,653.10 329.30,652.00 C329.45,650.90 329.31,648.62 329.40,647.80 C329.49,646.98 330.18,644.58 330.20,643.80 C330.22,643.02 329.81,640.73 329.60,640.00 C329.39,639.27 328.22,637.20 328.10,636.50 C327.98,635.80 328.17,633.59 328.40,633.00 C328.63,632.41 329.98,630.90 330.40,630.60 C330.82,630.30 332.16,630.00 332.60,630.00Z" fill="none" stroke="#333" stroke-width="0.8"/>
<line x1="329.76" y1="647.5" x2="335.44" y2="647.5" stroke="#555" stroke-width="0.5"/>
<line x1="321.95" y1="672.5" x2="344.12" y2="672.5" stroke="#555" stroke-width="0.5"/>
<circle cx="332.6" cy="631.6" r="1.45" fill="#dca6ad" stroke="#701a28" stroke-width="0.75"/>
<circle cx="327.5" cy="635.9" r="1.45" fill="#dca6ad" stroke="#701a28" stroke-width="0.75"/>
<circle cx="332.6" cy="637.3" r="1.45" fill="#dca6ad" stroke="#701a28" stroke-width="0.75"/>
<circle cx="338.3" cy="636.9" r="1.45" fill="#dca6ad" stroke="#701a28" stroke-width="0.75"/>
<circle cx="332.6" cy="647" r="1.45" fill="#dca6ad" stroke="#701a28" stroke-width="0.75"/>
<circle cx="332.6" cy="653.1" r="1.45" fill="#dca6ad" stroke="#701a28" stroke-width="0.75"/>
<circle cx="338" cy="650.9" r="1.45" fill="#dca6ad" stroke="#701a28" stroke-width="0.75"/>
<circle cx="338" cy="653.3" r="1.45" fill="#dca6ad" stroke="#701a28" stroke-width="0.75"/>
<circle cx="327.5" cy="661.2" r="1.45" fill="#dca6ad" stroke="#701a28" stroke-width="0.75"/>
<circle cx="332.6" cy="660.4" r="1.45" fill="#dca6ad" stroke="#701a28" stroke-width="0.75"/>
<circle cx="338.3" cy="660" r="1.45" fill="#dca6ad" stroke="#701a28" stroke-width="0.75"/>
<circle cx="322.8" cy="666.7" r="1.45" fill="#dca6ad" stroke="#701a28" stroke-width="0.75"/>
<circle cx="322.8" cy="668.9" r="1.45" fill="#dca6ad" stroke="#701a28" stroke-width="0.75"/>
<circle cx="327.5" cy="667.9" r="1.45" fill="#dca6ad" stroke="#701a28" stroke-width="0.75"/>
<circle cx="332.6" cy="669.3" r="1.45" fill="#dca6ad" stroke="#701a28" stroke-width="0.75"/>
<circle cx="337.8" cy="667.5" r="1.45" fill="#dca6ad" stroke="#701a28" stroke-width="0.75"/>
<circle cx="337.8" cy="669.9" r="1.45" fill="#dca6ad" stroke="#701a28" stroke-width="0.75"/>
<circle cx="343.3" cy="665.2" r="1.45" fill="#dca6ad" stroke="#701a28" stroke-width="0.75"/>
<circle cx="343.3" cy="668.3" r="1.45" fill="#dca6ad" stroke="#701a28" stroke-width="0.75"/>
<circle cx="322.8" cy="673" r="1.45" fill="#dca6ad" stroke="#701a28" stroke-width="0.75"/>
<circle cx="327.5" cy="673.5" r="1.45" fill="#dca6ad" stroke="#701a28" stroke-width="0.75"/>
<circle cx="327.5" cy="675.8" r="1.45" fill="#dca6ad" stroke="#701a28" stroke-width="0.75"/>
<circle cx="332.6" cy="671.5" r="1.45" fill="#dca6ad" stroke="#701a28" stroke-width="0.75"/>
<circle cx="332.6" cy="677" r="1.45" fill="#dca6ad" stroke="#701a28" stroke-width="0.75"/>
<circle cx="332.6" cy="679" r="1.45" fill="#dca6ad" stroke="#701a28" stroke-width="0.75"/>
<circle cx="332.6" cy="681" r="1.45" fill="#dca6ad" stroke="#701a28" stroke-width="0.75"/>
<circle cx="337.8" cy="676.2" r="1.45" fill="#dca6ad" stroke="#701a28" stroke-width="0.75"/>
<circle cx="337.8" cy="677.8" r="1.45" fill="#dca6ad" stroke="#701a28" stroke-width="0.75"/>
<circle cx="343.3" cy="673.5" r="1.45" fill="#dca6ad" stroke="#701a28" stroke-width="0.75"/>
<circle cx="343.3" cy="675.8" r="1.45" fill="#dca6ad" stroke="#701a28" stroke-width="0.75"/>
<path d="M368.20,652.00 C368.46,652.00 369.35,652.30 369.50,652.60 C369.65,652.90 369.77,654.51 369.70,655.00 C369.63,655.49 368.71,657.00 368.80,657.50 C368.89,658.00 370.40,659.50 370.60,660.00 C370.80,660.50 370.84,661.90 370.80,662.50 C370.76,663.10 370.20,665.25 370.20,666.00 C370.20,666.75 370.68,669.28 370.80,670.00 C370.92,670.72 370.91,672.70 371.40,673.20 C371.89,673.70 374.86,674.67 375.70,675.00 C376.54,675.33 379.36,676.00 379.80,676.50 C380.24,677.00 380.08,679.20 380.10,680.00 C380.12,680.80 380.29,683.92 380.00,684.50 C379.71,685.08 378.38,685.63 377.20,685.80 C376.02,685.97 370.00,686.20 368.20,686.20 C366.40,686.20 360.38,685.97 359.20,685.80 C358.02,685.63 356.69,685.08 356.40,684.50 C356.11,683.92 356.28,680.80 356.30,680.00 C356.32,679.20 356.16,677.00 356.60,676.50 C357.04,676.00 359.86,675.33 360.70,675.00 C361.54,674.67 364.51,673.70 365.00,673.20 C365.49,672.70 365.48,670.72 365.60,670.00 C365.72,669.28 366.20,666.75 366.20,666.00 C366.20,665.25 365.64,663.10 365.60,662.50 C365.56,661.90 365.60,660.50 365.80,660.00 C366.00,659.50 367.51,658.00 367.60,657.50 C367.69,657.00 366.77,655.49 366.70,655.00 C366.63,654.51 366.75,652.90 366.90,652.60 C367.05,652.30 367.94,652.00 368.20,652.00Z" fill="none" stroke="#333" stroke-width="0.8"/>
<circle cx="368.2" cy="653.4" r="1.2" fill="#dca6ad" stroke="#701a28" stroke-width="0.75"/>
<circle cx="366.8" cy="661.1" r="1.2" fill="#dca6ad" stroke="#701a28" stroke-width="0.75"/>
<circle cx="369.9" cy="661.1" r="1.2" fill="#dca6ad" stroke="#701a28" stroke-width="0.75"/>
<circle cx="368.2" cy="662.8" r="1.2" fill="#dca6ad" stroke="#701a28" stroke-width="0.75"/>
<circle cx="367.2" cy="667.5" r="1.2" fill="#dca6ad" stroke="#701a28" stroke-width="0.75"/>
<circle cx="369.5" cy="668.2" r="1.2" fill="#dca6ad" stroke="#701a28" stroke-width="0.75"/>
<circle cx="367.5" cy="670.2" r="1.2" fill="#dca6ad" stroke="#701a28" stroke-width="0.75"/>
<circle cx="369.9" cy="670.2" r="1.2" fill="#dca6ad" stroke="#701a28" stroke-width="0.75"/>
<circle cx="367.5" cy="672.5" r="1.2" fill="#dca6ad" stroke="#701a28" stroke-width="0.75"/>
<circle cx="369.9" cy="672.5" r="1.2" fill="#dca6ad" stroke="#701a28" stroke-width="0.75"/>
<circle cx="357.4" cy="677.3" r="1.2" fill="#dca6ad" stroke="#701a28" stroke-width="0.75"/>
<circle cx="360.1" cy="677.3" r="1.2" fill="#dca6ad" stroke="#701a28" stroke-width="0.75"/>
<circle cx="362.8" cy="677.3" r="1.2" fill="#dca6ad" stroke="#701a28" stroke-width="0.75"/>
<circle cx="365.5" cy="677.3" r="1.2" fill="#dca6ad" stroke="#701a28" stroke-width="0.75"/>
<circle cx="368.8" cy="677.3" r="1.2" fill="#dca6ad" stroke="#701a28" stroke-width="0.75"/>
<circle cx="371.5" cy="677.3" r="1.2" fill="#dca6ad" stroke="#701a28" stroke-width="0.75"/>
<circle cx="374.2" cy="677.3" r="1.2" fill="#dca6ad" stroke="#701a28" stroke-width="0.75"/>
<circle cx="376.9" cy="677.3" r="1.2" fill="#dca6ad" stroke="#701a28" stroke-width="0.75"/>
<circle cx="379.3" cy="677.3" r="1.2" fill="#dca6ad" stroke="#701a28" stroke-width="0.75"/>
<circle cx="357.4" cy="680.3" r="1.2" fill="#dca6ad" stroke="#701a28" stroke-width="0.75"/>
<circle cx="360.3" cy="680.3" r="1.2" fill="#dca6ad" stroke="#701a28" stroke-width="0.75"/>
<circle cx="363.0" cy="680.3" r="1.2" fill="#dca6ad" stroke="#701a28" stroke-width="0.75"/>
<circle cx="366.0" cy="680.3" r="1.2" fill="#dca6ad" stroke="#701a28" stroke-width="0.75"/>
<circle cx="369.0" cy="680.3" r="1.2" fill="#dca6ad" stroke="#701a28" stroke-width="0.75"/>
<circle cx="371.8" cy="680.3" r="1.2" fill="#dca6ad" stroke="#701a28" stroke-width="0.75"/>
<circle cx="374.5" cy="680.3" r="1.2" fill="#dca6ad" stroke="#701a28" stroke-width="0.75"/>
<circle cx="377.3" cy="680.3" r="1.2" fill="#dca6ad" stroke="#701a28" stroke-width="0.75"/>
<circle cx="380.0" cy="680.3" r="1.2" fill="#dca6ad" stroke="#701a28" stroke-width="0.75"/>
<circle cx="357.4" cy="683.3" r="1.2" fill="#dca6ad" stroke="#701a28" stroke-width="0.75"/>
<circle cx="360.3" cy="683.3" r="1.2" fill="#dca6ad" stroke="#701a28" stroke-width="0.75"/>
<circle cx="363.3" cy="683.3" r="1.2" fill="#dca6ad" stroke="#701a28" stroke-width="0.75"/>
<circle cx="366.3" cy="683.3" r="1.2" fill="#dca6ad" stroke="#701a28" stroke-width="0.75"/>
<circle cx="369.3" cy="683.3" r="1.2" fill="#dca6ad" stroke="#701a28" stroke-width="0.75"/>
<circle cx="372.4" cy="683.3" r="1.2" fill="#dca6ad" stroke="#701a28" stroke-width="0.75"/>
<circle cx="375.4" cy="683.3" r="1.2" fill="#dca6ad" stroke="#701a28" stroke-width="0.75"/>
<circle cx="378.4" cy="683.3" r="1.2" fill="#dca6ad" stroke="#701a28" stroke-width="0.75"/>
</svg>
</body></html>
